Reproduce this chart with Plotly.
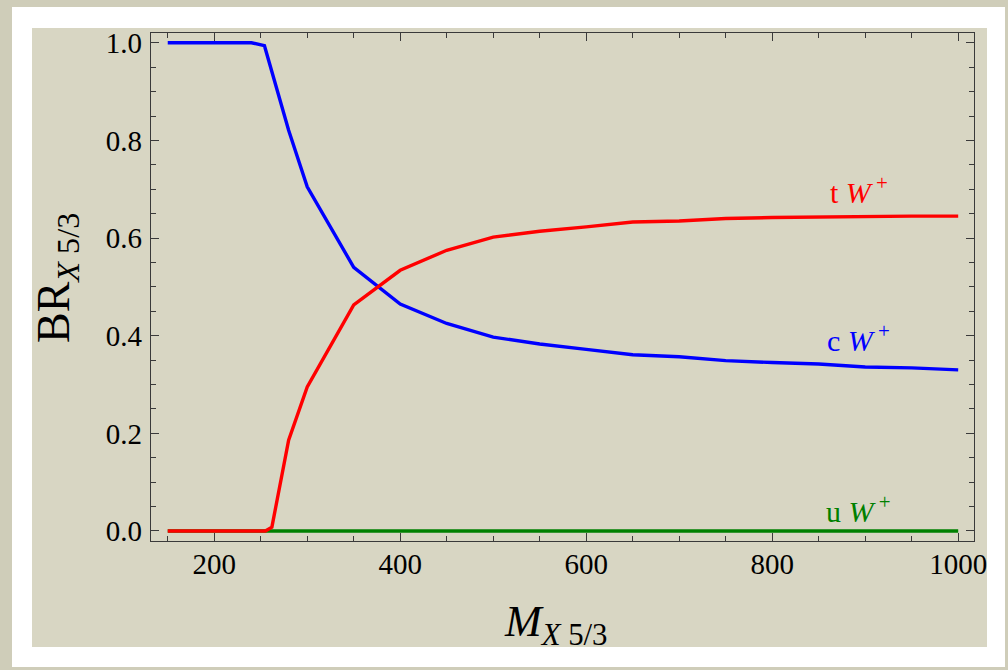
import plotly.graph_objects as go

# ---- data ----
mass_c = [150, 200, 240, 254, 280, 300, 350, 400, 450, 500, 550, 600, 650, 700, 750, 800, 850, 900, 950, 1000]
br_c   = [1.0, 1.0, 1.0, 0.994, 0.821, 0.705, 0.540, 0.465, 0.425, 0.397, 0.383, 0.372, 0.361, 0.357, 0.349, 0.345, 0.342, 0.336, 0.334, 0.330]

mass_t = [150, 200, 250, 255, 262, 280, 300, 350, 400, 450, 500, 550, 600, 650, 700, 750, 800, 850, 900, 950, 1000]
br_t   = [0.0, 0.0, 0.0, 0.0, 0.008, 0.186, 0.295, 0.463, 0.534, 0.575, 0.602, 0.614, 0.623, 0.633, 0.635, 0.640, 0.642, 0.643, 0.645, 0.645, 0.645]

mass_u = [150, 1000]
br_u   = [0.0, 0.0]

x_ticks = [200, 400, 600, 800, 1000]
y_ticks = [0.0, 0.2, 0.4, 0.6, 0.8, 1.0]

labels = [
    ("t <i>W</i><sup> +</sup>", 893, 0.698, "#ff0000"),
    ("c <i>W</i><sup> +</sup>", 893, 0.395, "#0000ff"),
    ("u <i>W</i><sup> +</sup>", 893, 0.045, "#008000"),
]

BEIGE = "#d8d6c3"
SERIF = "Liberation Serif, Times New Roman, serif"

fig = go.Figure()
fig.add_trace(go.Scatter(x=mass_c, y=br_c, mode="lines", line=dict(color="#0000ff", width=3.4)))
fig.add_trace(go.Scatter(x=mass_u, y=br_u, mode="lines", line=dict(color="#008000", width=3.4)))
fig.add_trace(go.Scatter(x=mass_t, y=br_t, mode="lines", line=dict(color="#ff0000", width=3.4)))

W, H = 1008, 670
L, R, T, B = 151, 974, 33, 541


def px(xp):
    return (xp - L) / (R - L)


def py(yp):
    return (B - yp) / (B - T)


shapes = [
    dict(type="rect", xref="paper", yref="paper", layer="below",
         x0=px(12), x1=px(1005), y0=py(667), y1=py(7),
         fillcolor="white", line=dict(width=0)),
    dict(type="rect", xref="paper", yref="paper", layer="below",
         x0=px(32), x1=px(987), y0=py(647), y1=py(28),
         fillcolor=BEIGE, line=dict(width=0)),
]

annotations = []
for txt, xv, yv, col in labels:
    annotations.append(dict(x=xv, y=yv, xref="x", yref="y", text=txt, showarrow=False,
                            xanchor="center", yanchor="middle",
                            font=dict(family=SERIF, size=30, color=col)))

annotations.append(dict(x=px(57), y=py(278), xref="paper", yref="paper",
                        xanchor="center", yanchor="middle",
                        text="BR<sub><i>X</i> 5/3</sub>", textangle=-90, showarrow=False,
                        font=dict(family=SERIF, size=46, color="black")))
annotations.append(dict(x=px(556), y=py(654), xref="paper", yref="paper",
                        xanchor="center", yanchor="bottom",
                        text="<i>M</i><sub><i>X</i> 5/3</sub>", showarrow=False,
                        font=dict(family=SERIF, size=44, color="black")))

axis_common = dict(showline=True, linecolor="#3a3a3a", linewidth=1.3, mirror="ticks",
                   ticks="inside", ticklen=8, tickwidth=1.2, tickcolor="#3a3a3a",
                   showgrid=False, zeroline=False,
                   tickfont=dict(family=SERIF, size=29, color="black"))

fig.update_layout(
    width=W, height=H,
    margin=dict(l=L, r=W - R, t=T, b=H - B),
    paper_bgcolor="#cfcdb9",
    plot_bgcolor="rgba(0,0,0,0)",
    showlegend=False,
    shapes=shapes,
    annotations=annotations,
    xaxis=dict(range=[132, 1017], tickvals=x_ticks, ticklabelstandoff=-3,
               minor=dict(ticks="inside", ticklen=5, dtick=50, tick0=0, tickcolor="#3a3a3a", showgrid=False),
               **axis_common),
    yaxis=dict(range=[-0.0205, 1.02], tickvals=y_ticks, tickformat=".1f", ticklabelstandoff=2,
               minor=dict(ticks="inside", ticklen=5, dtick=0.05, tick0=0, tickcolor="#3a3a3a", showgrid=False),
               **axis_common),
)

fig.write_html("out.html", config={"displayModeBar": False},
               post_script="document.body.style.margin='0';")
